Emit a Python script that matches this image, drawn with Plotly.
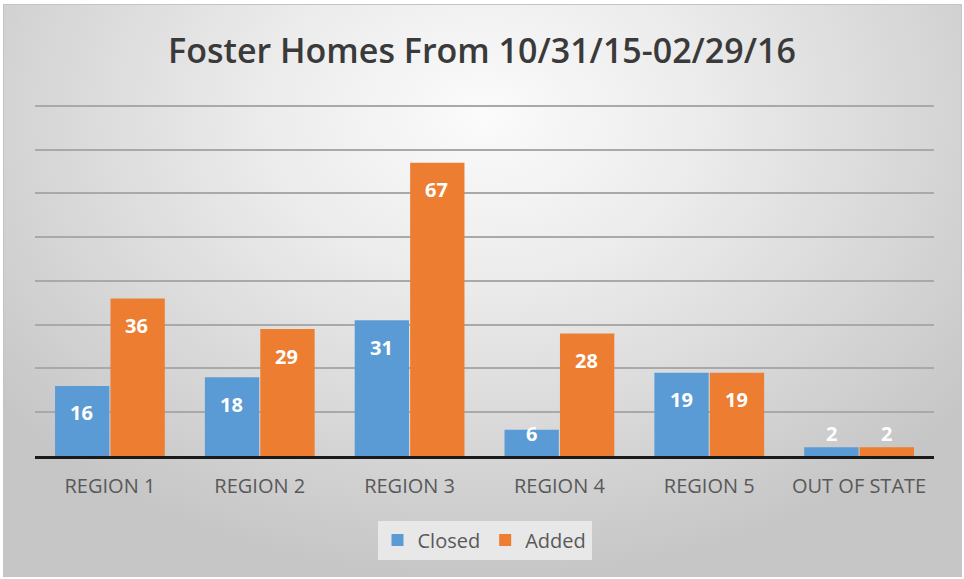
import base64
import plotly.graph_objects as go

categories = ["REGION 1", "REGION 2", "REGION 3", "REGION 4", "REGION 5", "OUT OF STATE"]
closed = [16, 18, 31, 6, 19, 2]
added = [36, 29, 67, 28, 19, 2]
series_names = ["Closed", "Added"]
title_text = "Foster Homes From 10/31/15-02/29/16"

W, H = 964, 579
YMAX = 80.4
PX_PER_UNIT = 350 / 80
BASE = 456
ML, MR = 35, 30
MB = H - BASE
MT = round(BASE - YMAX * PX_PER_UNIT)
PW, PH = W - ML - MR, BASE - MT

svg = (
    "<svg xmlns='http://www.w3.org/2000/svg' width='959' height='573' viewBox='0 0 959 573' preserveAspectRatio='none'>"
    "<defs><radialGradient id='g' gradientUnits='userSpaceOnUse' cx='480' cy='110' r='620' "
    "gradientTransform='translate(480 110) scale(1 0.75) translate(-480 -110)'>"
    "<stop offset='0' stop-color='#fbfbfb'/><stop offset='0.35' stop-color='#ececec'/>"
    "<stop offset='1' stop-color='#c6c6c6'/></radialGradient></defs>"
    "<rect x='0.5' y='0.5' width='958' height='572' fill='url(#g)' stroke='#c4c4c4' stroke-width='1'/></svg>"
)
src = "data:image/svg+xml;base64," + base64.b64encode(svg.encode()).decode()

fig = go.Figure()
fig.add_trace(go.Bar(name=series_names[0], x=categories, y=closed, marker_color="#5B9BD5",
                     marker_line_width=0))
fig.add_trace(go.Bar(name=series_names[1], x=categories, y=added, marker_color="#ED7D31",
                     marker_line_width=0))

# data labels (Excel "inside end" style)
off = 27 / PX_PER_UNIT
annotations = []
for c, vals in enumerate([closed, added]):
    for cat, v in zip(categories, vals):
        yv = max(v - off, off - 1)
        annotations.append(dict(
            x=cat, y=yv, xref="x", yref="y", text=str(v), showarrow=False,
            xshift=(-28 if c == 0 else 27),
            font=dict(family="Open Sans", size=20, color="white", weight="bold"),
            yanchor="middle"))

fig.update_layout(
    width=W, height=H,
    margin=dict(l=ML, r=MR, t=MT, b=MB, autoexpand=False),
    paper_bgcolor="white",
    plot_bgcolor="rgba(0,0,0,0)",
    barmode="group", bargap=0.26, bargroupgap=0.02,
    title=dict(text=title_text, x=0.5, xanchor="center", y=1 - 51 / H, yanchor="middle",
               xref="container", yref="container",
               font=dict(family="Open Sans", size=34, color="#3a3a3a", weight=600)),
    xaxis=dict(showline=True, linecolor="#1a1a1a", linewidth=3, ticks="",
               ticklabelstandoff=10,
               tickfont=dict(family="Open Sans", size=20, color="#595959"), showgrid=False),
    yaxis=dict(range=[0, YMAX], dtick=10, showticklabels=False, showgrid=True,
               gridcolor="#a9a9a9", gridwidth=1.5, zeroline=False),
    legend=dict(orientation="h", x=0.5, xanchor="center", y=-(540 - BASE) / PH, yanchor="middle",
                bgcolor="#e8e8e8", font=dict(family="Open Sans", size=20, color="#595959"),
                itemwidth=30),
    annotations=annotations,
    images=[dict(source=src, xref="paper", yref="paper",
                 x=(3 - ML) / PW, y=(BASE - 4) / PH, sizex=959 / PW, sizey=573 / PH,
                 sizing="stretch", layer="below", xanchor="left", yanchor="top")],
    showlegend=True,
)

fig.write_html("out.html", config={"displayModeBar": False},
               post_script="document.body.style.margin='0';")
